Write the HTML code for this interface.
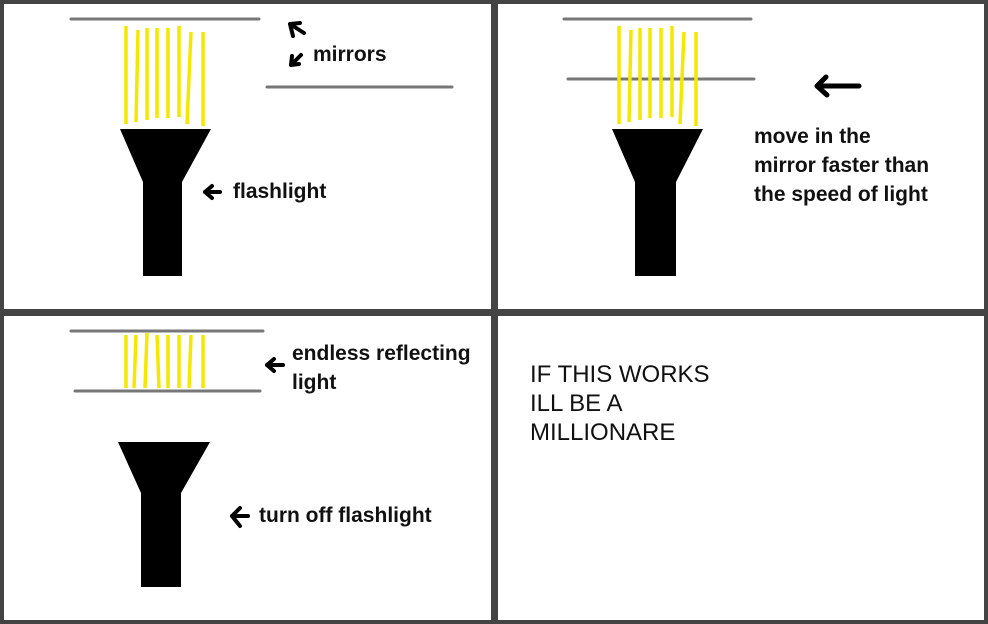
<!DOCTYPE html>
<html><head><style>
html,body{margin:0;padding:0;background:#fff}
body{width:988px;height:624px;position:relative;overflow:hidden}
.t{position:absolute;font-family:"Liberation Sans",sans-serif;font-weight:bold;font-size:21px;color:#111;line-height:29px;white-space:nowrap}
.a{position:absolute;font-family:"Liberation Sans",sans-serif;font-size:24px;color:#111;line-height:29px;white-space:nowrap}
</style></head><body>
<svg width="988" height="624" style="position:absolute;left:0;top:0">
<rect x="0" y="0" width="988" height="624" fill="#444"/>
<rect x="4" y="4" width="487" height="305" fill="#fff"/>
<rect x="498" y="4" width="486" height="305" fill="#fff"/>
<rect x="4" y="316" width="487" height="304" fill="#fff"/>
<rect x="498" y="316" width="486" height="304" fill="#fff"/>
<g stroke="#777" stroke-width="3" stroke-linecap="round">
<line x1="71" y1="19" x2="259" y2="19"/><line x1="267" y1="87" x2="452" y2="87"/>
<line x1="564" y1="19" x2="751" y2="19"/><line x1="568" y1="79" x2="754" y2="79"/>
<line x1="71" y1="331" x2="263" y2="331"/><line x1="75" y1="391" x2="260" y2="391"/>
</g>
<g stroke="#f5e800" stroke-width="3.5" fill="none">
<path d="M126 26V124M138 30L136 122M147 28V120M157 28V118M168 28V118M179 26V117M191 32L187 124M203 32V126"/>
<path d="M619 26V124M631 30L629 122M640 28V120M650 28V118M661 28V118M672 26V117M684 32L680 124M696 32V126"/>
<path d="M126 335V388M136 335L134 388M147 333L145 388M157 335L159 388M168 335V388M179 335V388M191 335L189 388M203 335V388"/>
</g>
<g fill="#000">
<path d="M120 129H211L182 182V276H143V182Z"/>
<path d="M612 129H703L676 182V276H635V182Z"/>
<path d="M118 442H210L181 493V587H141V493Z"/>
</g>
<g stroke="#000" stroke-width="4" fill="none" stroke-linecap="round" stroke-linejoin="round">
<path d="M304 33L290 24M290 24L293 36M290 24L300 23"/>
<path d="M301 55L291 65M291 65L292 56M291 65L299 64"/>
<path d="M205 192H220M212 186L205 192L212 198"/>
<path d="M818 86H859M826 77L817 86L827 95" stroke-width="5"/>
<path d="M267 365H283M274 359L267 365L274 371"/>
<path d="M232 516H248M240 508L232 516L240 526"/>
</g>
</svg>
<div class="t" style="left:233px;top:177px">flashlight</div>
<div class="t" style="left:313px;top:40px">mirrors</div>
<div class="t" style="left:754px;top:122px">move in the<br>mirror faster than<br>the speed of light</div>
<div class="t" style="left:292px;top:339px">endless reflecting<br>light</div>
<div class="t" style="left:259px;top:501px">turn off flashlight</div>
<div class="a" style="left:530px;top:360px">IF THIS WORKS<br>ILL BE A<br>MILLIONARE</div>
</body></html>
